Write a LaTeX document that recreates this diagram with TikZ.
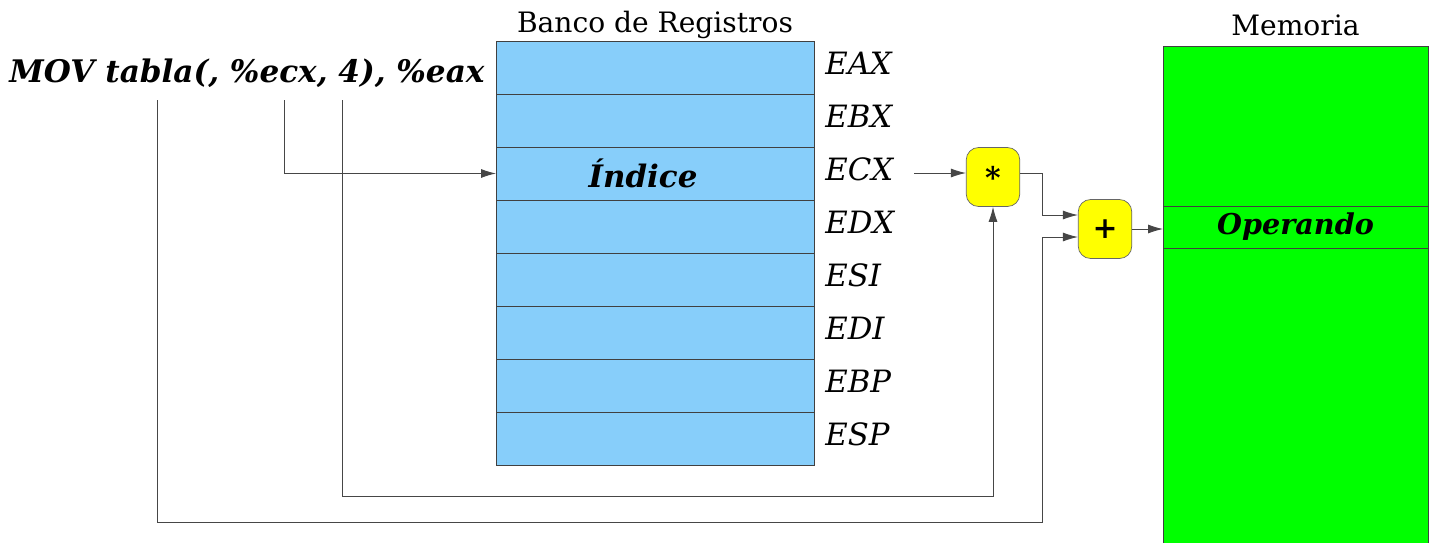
\documentclass[tikz,border=0pt]{standalone}
\usepackage{fontspec}
\setmainfont{DejaVu Serif}
\usetikzlibrary{positioning,calc,arrows.meta}
\definecolor{regblue}{RGB}{135,206,250}
\definecolor{memgreen}{RGB}{0,255,0}
\definecolor{opyellow}{RGB}{255,255,0}
\definecolor{wire}{RGB}{70,70,70}

\tikzset{
  reg/.style={draw=black!75,fill=regblue,minimum width=6.36cm,minimum height=1.06cm,
    outer sep=0pt,inner sep=0pt,font=\fontsize{17.6}{20}\selectfont\bfseries\itshape},
  regname/.style={font=\fontsize{17.5}{20}\selectfont\itshape,inner sep=0pt,anchor=west,yshift=0.08cm},
  mem/.style={draw=black!75,fill=memgreen,minimum width=5.3cm,outer sep=0pt,inner sep=0pt,
    font=\fontsize{16.3}{18}\selectfont\bfseries\itshape},
  op/.style={draw=black!60,fill=opyellow,rounded corners=7pt,minimum width=1.07cm,
    minimum height=1.18cm,font=\fontsize{17}{20}\selectfont\bfseries},
  title/.style={font=\fontsize{16}{18}\selectfont},
  wire/.style={draw=wire,line width=0.5pt}
}

\begin{document}
\begin{tikzpicture}[x=0.02cm,y=-0.02cm,>={Latex[length=3mm,width=1.8mm]}]
    \useasboundingbox (0,0) rectangle (1433,542);

    % instruccion
    \node[font=\fontsize{17.7}{20}\selectfont\bfseries\itshape] (mov) at (247,73) {MOV tabla(, \%ecx, 4), \%eax};
    \coordinate (base)  at (157,100);
    \coordinate (idx)   at (284,100);
    \coordinate (scale) at (342,100);

    % banco de registros
    \node[reg] (eax) at (655,67.5) {};
    \node[reg] (ebx) [below=0pt of eax] {};
    \node[reg] (ecx) [below=0pt of ebx] {\hspace*{-0.48cm}Índice};
    \node[reg] (edx) [below=0pt of ecx] {};
    \node[reg] (esi) [below=0pt of edx] {};
    \node[reg] (edi) [below=0pt of esi] {};
    \node[reg] (ebp) [below=0pt of edi] {};
    \node[reg] (esp) [below=0pt of ebp] {};
    \node[title,above=-2pt of eax] (bank) {Banco de Registros};
    \foreach \r/\n in {eax/EAX,ebx/EBX,ecx/ECX,edx/EDX,esi/ESI,edi/EDI,ebp/EBP,esp/ESP}
        \node[regname,right=0.22cm of \r] (\r-name) {\n};

    % operadores
    \node[op] (mul) at (993,177) {*};
    \node[op] (add) at (1105,229) {+};

    % memoria
    \node[mem,minimum height=3.2cm] (memtop) at (1295.5,126) {};
    \node[mem,minimum height=0.84cm] (oper) [below=0pt of memtop] {Operando};
    \node[mem,minimum height=6.4cm] (membot) [below=0pt of oper] {};
    \node[title,above=2pt of memtop] (memlbl) {Memoria};

    % conexiones
    \coordinate (low1)  at (342,496);
    \coordinate (low2)  at (157,522);
    \coordinate (ecxout) at (914,173);
    \coordinate (mulout) at (1042,173);
    \coordinate (addin1) at ($(add.west)+(0,-14)$);
    \coordinate (addin2) at ($(add.west)+(0,8)$);
    \path[wire,->] (idx) |- (ecx.west);
    \path[wire,->] (scale) -- (low1) -| (mul.south);
    \path[wire,->] (ecxout) -- (mul.west |- ecxout);
    \path[wire] (mul.east |- mulout) -- (mulout);
    \path[wire,->] (mulout) |- (addin1);
    \path[wire,->] (base) -- (low2) -| ($(addin2)+(-35,0)$) -- (addin2);
    \path[wire,->] (add.east) -- (oper.west |- add.east);
\end{tikzpicture}
\end{document}
